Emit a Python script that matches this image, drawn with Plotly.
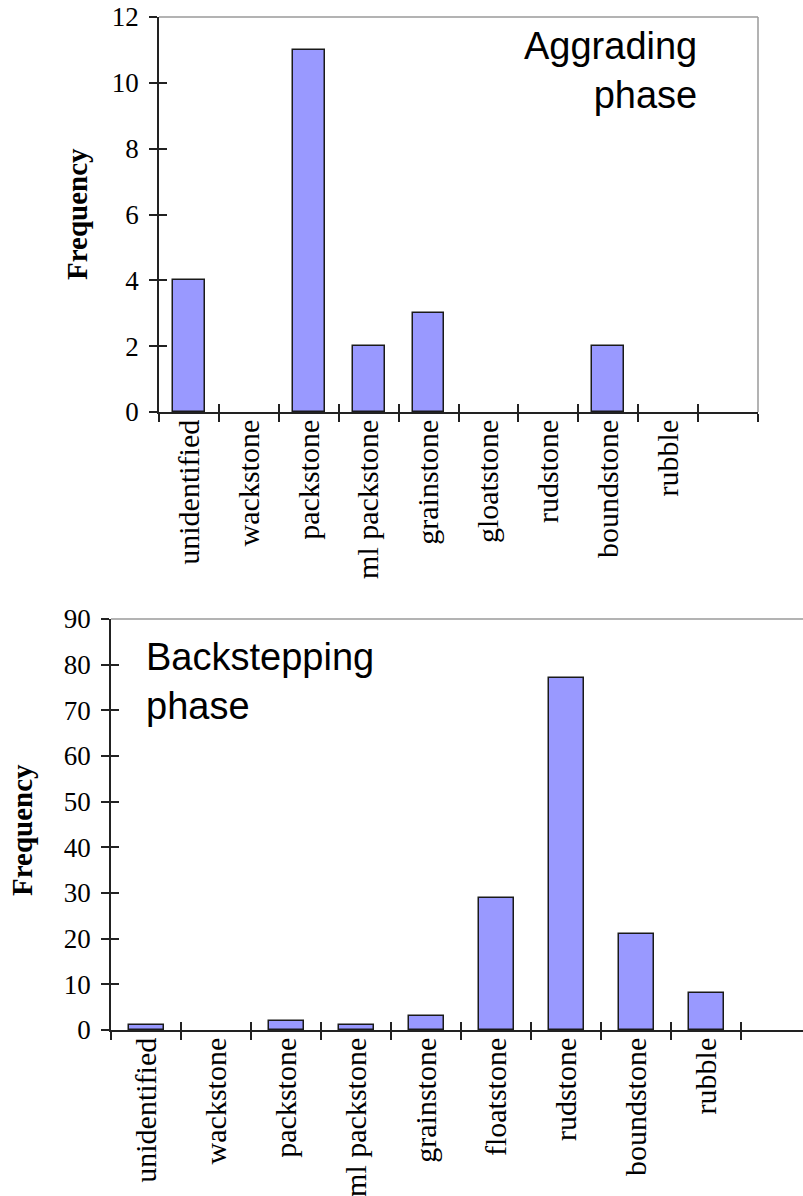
import plotly.graph_objects as go

# Facies frequency data for the two growth phases
categories_top = ["unidentified", "wackstone", "packstone", "ml packstone", "grainstone",
                  "gloatstone", "rudstone", "boundstone", "rubble", " "]
freq_top = [4, 0, 11, 2, 3, 0, 0, 2, 0, 0]

categories_bottom = ["unidentified", "wackstone", "packstone", "ml packstone", "grainstone",
                     "floatstone", "rudstone", "boundstone", "rubble", " "]
freq_bottom = [1, 0, 2, 1, 3, 29, 77, 21, 8, 0]

W, H = 803, 1196


def px_x(p):
    return p / W


def px_y(p):
    return (H - p) / H


BAR_FILL = "#9999ff"
EDGE = "#1a1a1a"
AXIS = "#222222"
BORDER = "#9a9a9a"
SERIF = "Liberation Serif, Times New Roman, serif"
SANS = "Liberation Sans, Arial, sans-serif"
NUM_FONT = dict(family=SERIF, size=27, color="black")
CAT_FONT = dict(family=SERIF, size=30, color="black")


def edge_widths(values):
    # no outline on empty classes, so nothing is stroked along the baseline
    return [1.5 if v > 0 else 0 for v in values]


fig = go.Figure()

fig.add_trace(go.Bar(x=categories_top, y=freq_top, width=0.53,
                     marker=dict(color=BAR_FILL,
                                 line=dict(color=EDGE, width=edge_widths(freq_top))),
                     xaxis="x", yaxis="y", showlegend=False))
fig.add_trace(go.Bar(x=categories_bottom, y=freq_bottom, width=0.5,
                     marker=dict(color=BAR_FILL,
                                 line=dict(color=EDGE, width=edge_widths(freq_bottom))),
                     xaxis="x2", yaxis="y2", showlegend=False))

# invisible traces carrying the inner half of the crossing tick marks
fig.add_trace(go.Scatter(x=categories_top, y=[0] * len(categories_top), mode="markers",
                         marker=dict(opacity=0), xaxis="x3", yaxis="y3",
                         showlegend=False, hoverinfo="skip"))
fig.add_trace(go.Scatter(x=categories_bottom, y=[0] * len(categories_bottom), mode="markers",
                         marker=dict(opacity=0), xaxis="x4", yaxis="y4",
                         showlegend=False, hoverinfo="skip"))

top_dom_x = [px_x(159), px_x(758)]
top_dom_y = [px_y(412), px_y(17)]
bot_dom_x = [px_x(111), 1.0]
bot_dom_y = [px_y(1030), px_y(619)]

top_xrange = [-0.5, 9.5]
cat_w_bottom = 70.0
bot_xrange = [-0.5, -0.5 + (W - 111) / cat_w_bottom]

common_x = dict(type="category", tickson="boundaries", ticks="outside", ticklen=8,
                tickwidth=1.5, tickcolor=AXIS, showline=True, linecolor=AXIS,
                linewidth=1.5, showgrid=False, zeroline=False, tickangle=-90,
                tickfont=CAT_FONT, fixedrange=True, automargin=False,
                ticklabelstandoff=-6)
common_y = dict(ticks="outside", ticklen=8, tickwidth=1.5, tickcolor=AXIS,
                showline=True, linecolor=AXIS, linewidth=1.5, showgrid=False,
                zeroline=False, tickfont=NUM_FONT, fixedrange=True, automargin=False,
                ticklabelstandoff=5)
inner_x = dict(type="category", tickson="boundaries", ticks="inside", ticklen=8,
               tickwidth=1.5, tickcolor=AXIS, showline=False, showgrid=False,
               zeroline=False, showticklabels=False, fixedrange=True, automargin=False)
inner_y = dict(ticks="inside", ticklen=8, tickwidth=1.5, tickcolor=AXIS,
               showline=False, showgrid=False, zeroline=False,
               showticklabels=False, fixedrange=True, automargin=False)

fig.update_layout(
    width=W, height=H,
    margin=dict(l=0, r=0, t=0, b=0, autoexpand=False),
    paper_bgcolor="white", plot_bgcolor="white",
    bargap=0,
    xaxis=dict(common_x, domain=top_dom_x, anchor="y", range=top_xrange,
               categoryorder="array", categoryarray=categories_top),
    yaxis=dict(common_y, domain=top_dom_y, anchor="x", range=[0, 12], dtick=2),
    xaxis2=dict(common_x, domain=bot_dom_x, anchor="y2", range=bot_xrange,
                categoryorder="array", categoryarray=categories_bottom),
    yaxis2=dict(common_y, domain=bot_dom_y, anchor="x2", range=[0, 90], dtick=10),
    xaxis3=dict(inner_x, overlaying="x", anchor="y", range=top_xrange,
                categoryorder="array", categoryarray=categories_top),
    yaxis3=dict(inner_y, overlaying="y", anchor="x", range=[0, 12], dtick=2),
    xaxis4=dict(inner_x, overlaying="x2", anchor="y2", range=bot_xrange,
                categoryorder="array", categoryarray=categories_bottom),
    yaxis4=dict(inner_y, overlaying="y2", anchor="x2", range=[0, 90], dtick=10),
)

# grey frame lines on top / right of the plot areas
fig.add_shape(type="line", xref="x domain", yref="y domain", x0=0, x1=1, y0=1, y1=1,
              line=dict(color=BORDER, width=1.5))
fig.add_shape(type="line", xref="x domain", yref="y domain", x0=1, x1=1, y0=0, y1=1,
              line=dict(color=BORDER, width=1.5))
fig.add_shape(type="line", xref="x2 domain", yref="y2 domain", x0=0, x1=1, y0=1, y1=1,
              line=dict(color=BORDER, width=1.5))

# axis titles
fig.add_annotation(text="<b>Frequency</b>", textangle=-90, xref="paper", yref="paper",
                   x=px_x(77), y=px_y(214), xanchor="center", yanchor="middle",
                   showarrow=False, font=dict(family=SERIF, size=29, color="black"))
fig.add_annotation(text="<b>Frequency</b>", textangle=-90, xref="paper", yref="paper",
                   x=px_x(22), y=px_y(830), xanchor="center", yanchor="middle",
                   showarrow=False, font=dict(family=SERIF, size=29, color="black"))

# phase labels
fig.add_annotation(text="Aggrading<br>phase", xref="paper", yref="paper",
                   x=px_x(699), y=px_y(23), xanchor="right", yanchor="top",
                   align="right", showarrow=False,
                   font=dict(family=SANS, size=38, color="black"))
fig.add_annotation(text="Backstepping<br>phase", xref="paper", yref="paper",
                   x=px_x(144), y=px_y(634), xanchor="left", yanchor="top",
                   align="left", showarrow=False,
                   font=dict(family=SANS, size=38, color="black"))

fig.write_html("out.html")
